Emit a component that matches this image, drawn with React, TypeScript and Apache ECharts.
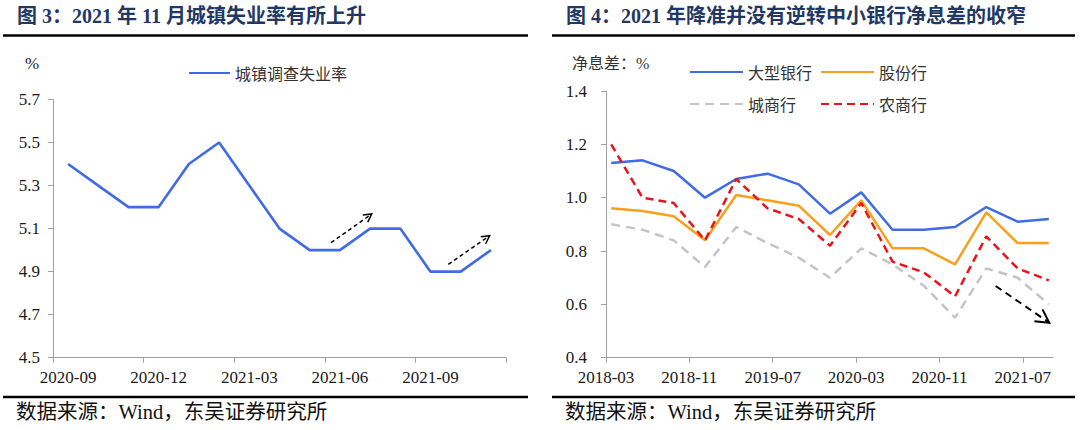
import React, { useEffect, useRef } from "react";
import * as echarts from "echarts";

// ---------- Figure 3: urban surveyed unemployment rate ----------
const months = [
  "2020-09", "2020-10", "2020-11", "2020-12", "2021-01", "2021-02", "2021-03", "2021-04",
  "2021-05", "2021-06", "2021-07", "2021-08", "2021-09", "2021-10", "2021-11",
];
const unemployment = [5.4, 5.3, 5.2, 5.2, 5.4, 5.5, 5.3, 5.1, 5.0, 5.0, 5.1, 5.1, 4.9, 4.9, 5.0];
const unempAxis = { min: 4.5, max: 5.7, step: 0.2 };

// ---------- Figure 4: net interest spread by bank type ----------
const quarters = [
  "2018-03", "2018-06", "2018-09", "2018-12", "2019-03", "2019-06", "2019-09", "2019-12",
  "2020-03", "2020-06", "2020-09", "2020-12", "2021-03", "2021-06", "2021-09",
];
const bigBanks = [1.13, 1.14, 1.10, 1.00, 1.07, 1.09, 1.05, 0.94, 1.02, 0.88, 0.88, 0.89, 0.965, 0.91, 0.92];
const jointStock = [0.96, 0.95, 0.93, 0.84, 1.01, 0.99, 0.97, 0.86, 0.99, 0.81, 0.81, 0.75, 0.945, 0.83, 0.83];
const cityBanks = [0.90, 0.88, 0.84, 0.74, 0.89, 0.83, 0.775, 0.70, 0.81, 0.75, 0.67, 0.55, 0.735, 0.70, 0.60];
const ruralBanks = [1.20, 1.00, 0.98, 0.84, 1.07, 0.96, 0.92, 0.82, 0.98, 0.76, 0.72, 0.63, 0.855, 0.735, 0.69];
const nimTickLabels = ["2018-03", "2018-11", "2019-07", "2020-03", "2020-11", "2021-07"];
const nimAxis = { min: 0.4, max: 1.4, step: 0.2 };

const SERIF = "'Liberation Serif', 'Noto Sans CJK SC', serif";
const AXIS_GRAY = "#A0A0A0";

function monthIndex(s: string) {
  const [y, m] = s.split("-").map(Number);
  return y * 12 + (m - 1);
}
const baseMonth = monthIndex(quarters[0]);
function idxToLabel(i: number) {
  const t = baseMonth + Math.round(i);
  const y = Math.floor(t / 12);
  const m = (t % 12) + 1;
  return `${y}-${m < 10 ? "0" + m : m}`;
}

function arrow(x1: number, y1: number, x2: number, y2: number, head: number, dash: number[], w: number) {
  const a = Math.atan2(y2 - y1, x2 - x1);
  const h1 = [x2 - head * Math.cos(a - 0.5), y2 - head * Math.sin(a - 0.5)];
  const h2 = [x2 - head * Math.cos(a + 0.5), y2 - head * Math.sin(a + 0.5)];
  return [
    { type: "line", shape: { x1, y1, x2, y2 }, style: { stroke: "#000", lineWidth: w, lineDash: dash } },
    { type: "polyline", shape: { points: [h1, [x2, y2], h2] }, style: { stroke: "#000", lineWidth: w, fill: null } },
  ];
}

export default function App() {
  const ref = useRef<HTMLDivElement>(null);
  useEffect(() => {
    if (!ref.current) return;
    const chart = echarts.init(ref.current, null, { renderer: "svg" });

    const nimX = (q: string) => monthIndex(q) - baseMonth + 0.5;
    const nimPairs = (vals: number[]) => quarters.map((q, i) => [nimX(q), vals[i]]);
    const nimTickVals = nimTickLabels.map((s) => monthIndex(s) - baseMonth);

    const axisLabelStyle = { color: "#1a1a1a", fontFamily: SERIF, fontSize: 17 };
    const legendText = { color: "#333", fontFamily: "'Noto Sans CJK SC', sans-serif", fontSize: 16 };
    const legendCommon = { padding: 0, itemHeight: 14, itemStyle: { opacity: 0 }, textStyle: legendText };

    const option: any = {
      animation: false,
      backgroundColor: "#fff",
      grid: [
        { left: 53, top: 99.5, width: 453, height: 258.2, containLabel: false },
        { left: 606, top: 91, width: 447, height: 266.7, containLabel: false },
      ],
      legend: [
        { data: ["城镇调查失业率"], left: 188, top: 65, itemWidth: 41, itemGap: 10, ...legendCommon },
        { data: ["大型银行", "股份行"], left: 689, top: 64, itemWidth: 53, itemGap: 8, ...legendCommon },
        { data: ["城商行", "农商行"], left: 689, top: 96, itemWidth: 53, itemGap: 24, ...legendCommon },
      ],
      xAxis: [
        {
          type: "category", gridIndex: 0, data: months, boundaryGap: true,
          axisLine: { lineStyle: { color: AXIS_GRAY, width: 1 } },
          axisTick: { show: true, interval: 2, length: 5, lineStyle: { color: AXIS_GRAY } },
          axisLabel: { interval: 2, margin: 11, ...axisLabelStyle },
          splitLine: { show: false },
        },
        {
          type: "value", gridIndex: 1, min: 0, max: 42.9,
          axisLine: { show: true, lineStyle: { color: AXIS_GRAY, width: 1 } },
          axisTick: { show: true, length: 5, customValues: nimTickVals, lineStyle: { color: AXIS_GRAY } },
          axisLabel: { margin: 11, customValues: nimTickVals, formatter: (v: number) => idxToLabel(v), ...axisLabelStyle },
          splitLine: { show: false },
        },
      ],
      yAxis: [
        {
          type: "value", gridIndex: 0, min: 0, max: unempAxis.max - unempAxis.min, interval: unempAxis.step,
          axisLine: { show: true, lineStyle: { color: AXIS_GRAY, width: 1 } },
          axisTick: { show: true, length: 5, lineStyle: { color: AXIS_GRAY } },
          axisLabel: { margin: 13, formatter: (v: number) => (v + unempAxis.min).toFixed(1), ...axisLabelStyle },
          splitLine: { show: false },
        },
        {
          type: "value", gridIndex: 1, min: nimAxis.min, max: nimAxis.max, interval: nimAxis.step,
          axisLine: { show: true, lineStyle: { color: AXIS_GRAY, width: 1 } },
          axisTick: { show: true, length: 5, lineStyle: { color: AXIS_GRAY } },
          axisLabel: { margin: 19, formatter: (v: number) => v.toFixed(1), ...axisLabelStyle },
          splitLine: { show: false },
        },
      ],
      series: [
        {
          name: "城镇调查失业率", type: "line", xAxisIndex: 0, yAxisIndex: 0,
          data: unemployment.map((v) => +(v - unempAxis.min).toFixed(4)),
          showSymbol: false, symbol: "none",
          lineStyle: { color: "#3F6BE4", width: 2.6 }, itemStyle: { color: "#3F6BE4" },
        },
        {
          name: "大型银行", type: "line", xAxisIndex: 1, yAxisIndex: 1, data: nimPairs(bigBanks),
          showSymbol: false, symbol: "none",
          lineStyle: { color: "#3F6BE4", width: 2.5 }, itemStyle: { color: "#3F6BE4" },
        },
        {
          name: "股份行", type: "line", xAxisIndex: 1, yAxisIndex: 1, data: nimPairs(jointStock),
          showSymbol: false, symbol: "none",
          lineStyle: { color: "#F8A01C", width: 2.5 }, itemStyle: { color: "#F8A01C" },
        },
        {
          name: "城商行", type: "line", xAxisIndex: 1, yAxisIndex: 1, data: nimPairs(cityBanks),
          showSymbol: false, symbol: "none",
          lineStyle: { color: "#C4C4C4", width: 2.5, type: [9, 6] }, itemStyle: { color: "#C4C4C4" },
        },
        {
          name: "农商行", type: "line", xAxisIndex: 1, yAxisIndex: 1, data: nimPairs(ruralBanks),
          showSymbol: false, symbol: "none",
          lineStyle: { color: "#E8141C", width: 2.5, type: [8, 5] }, itemStyle: { color: "#E8141C" },
        },
      ],
      graphic: [
        {
          type: "text", left: 17, top: 6,
          style: { text: "图 3：2021 年 11 月城镇失业率有所上升", fill: "#1F3864", font: `bold 20px ${SERIF}` },
        },
        {
          type: "text", left: 566, top: 6,
          style: { text: "图 4：2021 年降准并没有逆转中小银行净息差的收窄", fill: "#1F3864", font: `bold 20px ${SERIF}` },
        },
        { type: "line", shape: { x1: 3, y1: 35.5, x2: 528, y2: 35.5 }, style: { stroke: "#000", lineWidth: 2.5 } },
        { type: "line", shape: { x1: 552, y1: 35.5, x2: 1075, y2: 35.5 }, style: { stroke: "#000", lineWidth: 2.5 } },
        { type: "line", shape: { x1: 3, y1: 397, x2: 528, y2: 397 }, style: { stroke: "#000", lineWidth: 2.5 } },
        { type: "line", shape: { x1: 552, y1: 397, x2: 1075, y2: 397 }, style: { stroke: "#000", lineWidth: 2.5 } },
        {
          type: "text", left: 16, top: 402,
          style: { text: "数据来源：Wind，东吴证券研究所", fill: "#111", font: `20.5px ${SERIF}` },
        },
        {
          type: "text", left: 565, top: 402,
          style: { text: "数据来源：Wind，东吴证券研究所", fill: "#111", font: `20.5px ${SERIF}` },
        },
        { type: "text", left: 25, top: 55, style: { text: "%", fill: "#1a1a1a", font: `17px ${SERIF}` } },
        { type: "text", left: 572, top: 55, style: { text: "净息差：%", fill: "#333", font: `16px ${SERIF}` } },
        ...arrow(331, 242.7, 371.7, 214, 9, [4, 3], 1.5),
        ...arrow(448.3, 264.3, 489.7, 235.7, 9, [4, 3], 1.5),
        ...arrow(995.7, 286, 1049.3, 322.7, 15, [7, 5], 2),
      ],
    };
    chart.setOption(option);
    return () => chart.dispose();
  }, []);
  return (
    <div
      ref={ref}
      style={{ position: "fixed", left: 0, top: 0, width: 1080, height: 430, background: "#fff" }}
    />
  );
}
